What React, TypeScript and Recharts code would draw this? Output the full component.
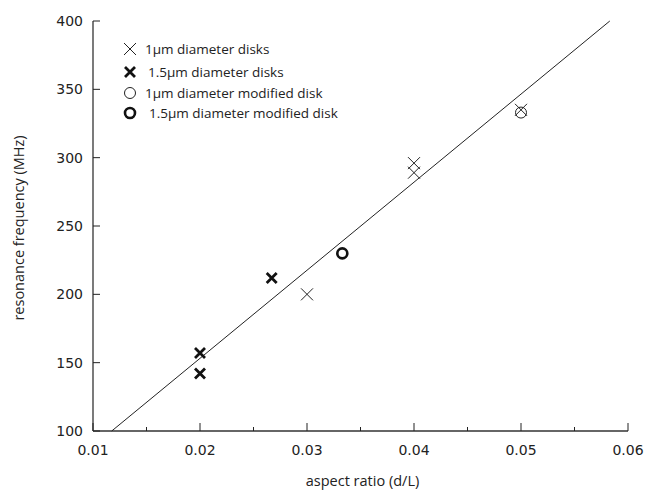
import { Scatter, ScatterChart, XAxis, YAxis } from "recharts";

// tick positions
const xTicks = [0.01, 0.015, 0.02, 0.025, 0.03, 0.035, 0.04, 0.045, 0.05, 0.055, 0.06];
const xLabelled = [0.01, 0.02, 0.03, 0.04, 0.05, 0.06];
const yTicks = [100, 150, 200, 250, 300, 350, 400];

// 1um diameter disks
const thinDiskX = [0.03, 0.04, 0.04, 0.05];
const thinDiskY = [200, 296, 289, 335];
// 1.5um diameter disks
const thickDiskX = [0.02, 0.02, 0.0267];
const thickDiskY = [157, 142, 212];
// 1um diameter modified disk
const thinModX = [0.05];
const thinModY = [333];
// 1.5um diameter modified disk
const thickModX = [0.0333];
const thickModY = [230];
// linear fit
const fitX = [0.01175, 0.0583];
const fitY = [100, 400];

const toPoints = (xs: number[], ys: number[]) => xs.map((x, i) => ({ x, y: ys[i] }));

const INK = "#222";
const TICK_FONT = "'DejaVu Sans', sans-serif";
const LABEL_FONT = "'Open Sans', sans-serif";

const ThinX = (p: any) => (
  <path
    d={`M${p.cx - 6},${p.cy - 6}L${p.cx + 6},${p.cy + 6}M${p.cx - 6},${p.cy + 6}L${p.cx + 6},${p.cy - 6}`}
    stroke={INK}
    strokeWidth={1}
    fill="none"
  />
);
const ThickX = (p: any) => (
  <path
    d={`M${p.cx - 5},${p.cy - 5}L${p.cx + 5},${p.cy + 5}M${p.cx - 5},${p.cy + 5}L${p.cx + 5},${p.cy - 5}`}
    stroke="#111"
    strokeWidth={2.8}
    fill="none"
  />
);
const ThinO = (p: any) => <circle cx={p.cx} cy={p.cy} r={5.5} stroke={INK} strokeWidth={1} fill="none" />;
const ThickO = (p: any) => <circle cx={p.cx} cy={p.cy} r={5} stroke="#111" strokeWidth={2.6} fill="none" />;
const NoDot = () => null;

const BottomTick = (p: any) => {
  const axisY = p.y - 14;
  const v = p.payload.value;
  const major = xLabelled.some((m) => Math.abs(m - v) < 1e-9);
  return (
    <g>
      <line x1={p.x} x2={p.x} y1={axisY} y2={axisY - (major ? 8 : 4)} stroke={INK} strokeWidth={1} />
      {major && (
        <text x={p.x} y={p.y} dy="0.71em" textAnchor="middle" fontFamily={TICK_FONT} fontSize={14} fill={INK}>
          {v.toFixed(2)}
        </text>
      )}
    </g>
  );
};

const TopTick = (p: any) => {
  const v = p.payload.value;
  const major = xLabelled.some((m) => Math.abs(m - v) < 1e-9);
  return <line x1={p.x} x2={p.x} y1={p.y} y2={p.y + (major ? 7 : 4)} stroke={INK} strokeWidth={1} />;
};

const LeftTick = (p: any) => {
  const axisX = p.x + 10;
  return (
    <g>
      <line x1={axisX} x2={axisX + 7} y1={p.y} y2={p.y} stroke={INK} strokeWidth={1} />
      <text x={p.x} y={p.y} dy="0.36em" textAnchor="end" fontFamily={TICK_FONT} fontSize={14} fill={INK}>
        {p.payload.value}
      </text>
    </g>
  );
};

const RightTick = (p: any) => <line x1={p.x} x2={p.x - 7} y1={p.y} y2={p.y} stroke={INK} strokeWidth={1} />;

const YTitle = (p: any) => {
  const vb = p.viewBox;
  const cy = vb.y + vb.height / 2 + 2;
  return (
    <text
      x={24}
      y={cy}
      transform={`rotate(-90, 24, ${cy})`}
      textAnchor="middle"
      fontFamily={LABEL_FONT}
      fontSize={14.5}
      fill={INK}
    >
      resonance frequency (MHz)
    </text>
  );
};

const XTitle = (p: any) => {
  const vb = p.viewBox;
  return (
    <text x={vb.x + vb.width / 2 + 2} y={486} textAnchor="middle" fontFamily={LABEL_FONT} fontSize={14.5} fill={INK}>
      aspect ratio (d/L)
    </text>
  );
};

const legendRows = [
  { label: "1µm diameter disks", Shape: ThinX, shift: 0 },
  { label: "1.5µm diameter disks", Shape: ThickX, shift: 3 },
  { label: "1µm diameter modified disk", Shape: ThinO, shift: 0 },
  { label: "1.5µm diameter modified disk", Shape: ThickO, shift: 4 },
];
const legendY = [49, 72, 93, 113];

export default function App() {
  const axisLine = { stroke: "#333", strokeWidth: 1.3 };
  return (
    <div style={{ position: "absolute", left: 0, top: 0, width: 646, height: 491, background: "#fff" }}>
      <ScatterChart width={646} height={491} margin={{ top: 21, right: 18, bottom: 0, left: 0 }}>
        <XAxis
          xAxisId="bottom"
          dataKey="x"
          type="number"
          domain={[0.01, 0.06]}
          ticks={xTicks}
          interval={0}
          height={60}
          tickSize={0}
          tickMargin={14}
          tick={<BottomTick />}
          axisLine={axisLine}
          label={<XTitle />}
        />
        <XAxis
          xAxisId="top"
          orientation="top"
          dataKey="x"
          type="number"
          domain={[0.01, 0.06]}
          ticks={xTicks}
          interval={0}
          height={0}
          tickSize={0}
          tickMargin={0}
          tick={<TopTick />}
          axisLine={axisLine}
        />
        <YAxis
          yAxisId="left"
          dataKey="y"
          type="number"
          domain={[100, 400]}
          ticks={yTicks}
          interval={0}
          width={93}
          tickSize={0}
          tickMargin={10}
          tick={<LeftTick />}
          axisLine={axisLine}
          label={<YTitle />}
        />
        <YAxis
          yAxisId="right"
          orientation="right"
          dataKey="y"
          type="number"
          domain={[100, 400]}
          ticks={yTicks}
          interval={0}
          width={0}
          tickSize={0}
          tickMargin={0}
          tick={<RightTick />}
          axisLine={axisLine}
        />
        <Scatter
          xAxisId="bottom"
          yAxisId="left"
          data={toPoints(fitX, fitY)}
          line={{ stroke: INK, strokeWidth: 1 }}
          shape={<NoDot />}
          isAnimationActive={false}
        />
        <Scatter xAxisId="bottom" yAxisId="left" data={toPoints(thinDiskX, thinDiskY)} shape={<ThinX />} isAnimationActive={false} />
        <Scatter xAxisId="bottom" yAxisId="left" data={toPoints(thickDiskX, thickDiskY)} shape={<ThickX />} isAnimationActive={false} />
        <Scatter xAxisId="bottom" yAxisId="left" data={toPoints(thinModX, thinModY)} shape={<ThinO />} isAnimationActive={false} />
        <Scatter xAxisId="bottom" yAxisId="left" data={toPoints(thickModX, thickModY)} shape={<ThickO />} isAnimationActive={false} />
        <Scatter xAxisId="top" yAxisId="right" data={[]} isAnimationActive={false} />
      </ScatterChart>
      <div style={{ position: "absolute", left: 0, top: 0, pointerEvents: "none" }}>
        {legendRows.map((r, i) => (
          <div
            key={r.label}
            style={{
              position: "absolute",
              left: 122,
              top: legendY[i] - 9,
              height: 18,
              display: "flex",
              alignItems: "center",
              whiteSpace: "nowrap",
              fontFamily: LABEL_FONT,
              fontSize: 13.5,
              color: INK,
            }}
          >
            <svg width={18} height={18} style={{ marginRight: 5 + r.shift }}>
              <r.Shape cx={8} cy={9} />
            </svg>
            <span>{r.label}</span>
          </div>
        ))}
      </div>
    </div>
  );
}
